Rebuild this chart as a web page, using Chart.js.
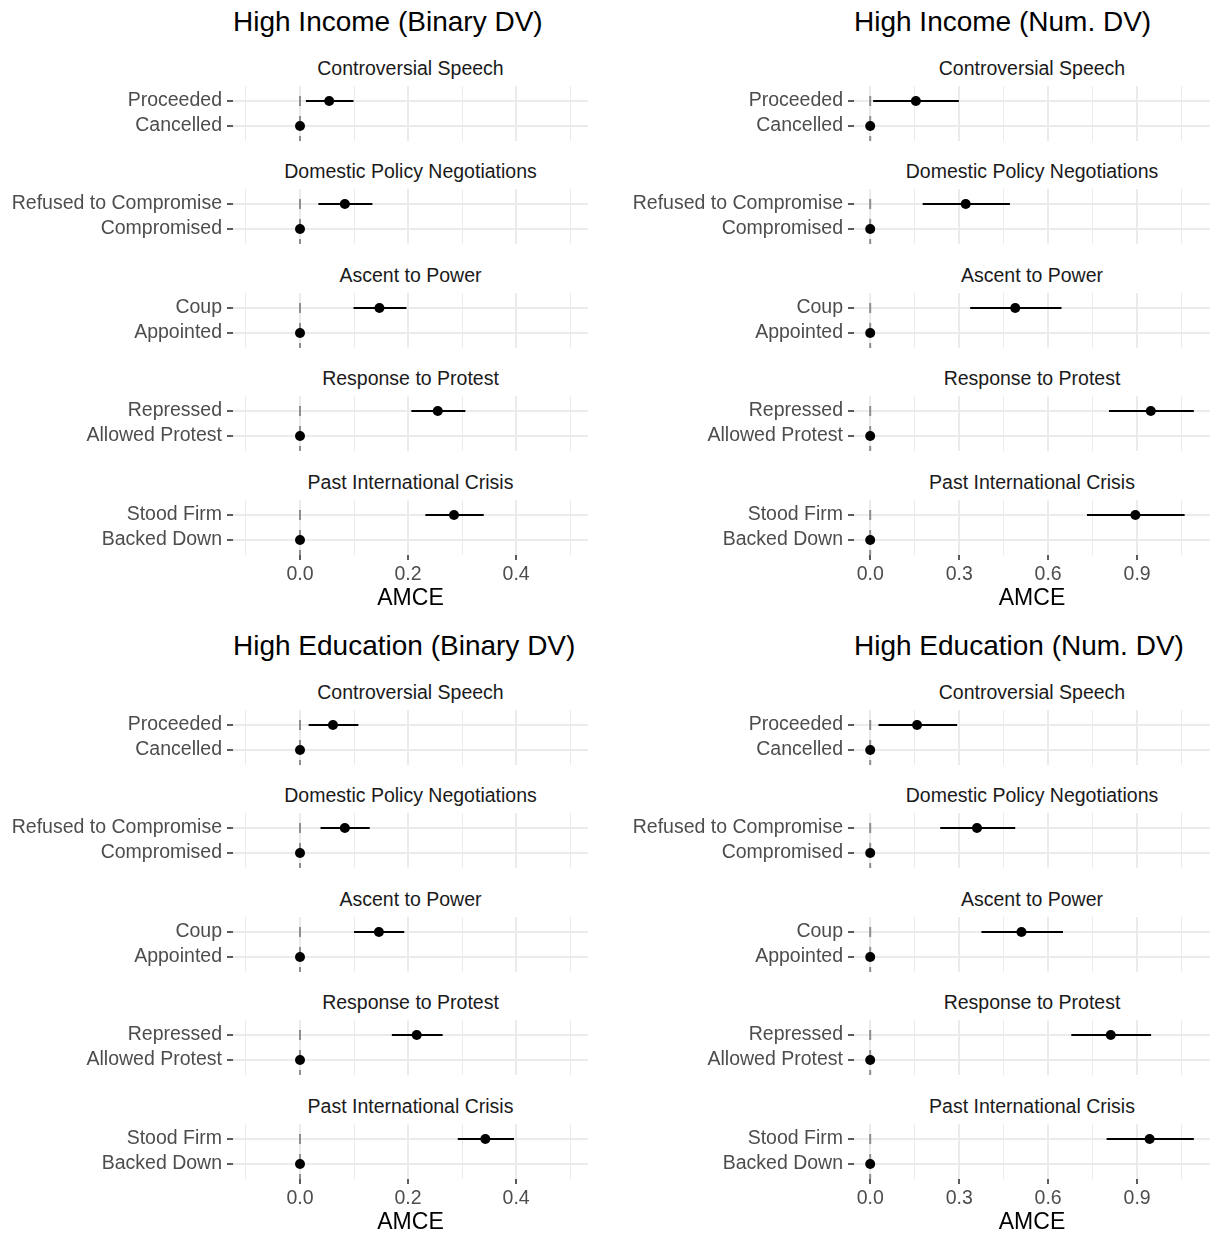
<!DOCTYPE html>
<html>
<head>
<meta charset="utf-8">
<title>AMCE by respondent subgroup</title>
<script src="https://cdn.jsdelivr.net/npm/chart.js@4.4.1/dist/chart.umd.min.js"></script>
<style>
  html, body { margin: 0; padding: 0; background: #ffffff; }
  #page { position: relative; width: 1211px; height: 1234px; overflow: hidden;
          font-family: "Liberation Sans", Arial, Helvetica, sans-serif; }
  .facet { position: absolute; }
  .facet canvas { display: block; }
  .plot-title { position: absolute; font-size: 28px; color: #000; white-space: nowrap;
                height: 32px; line-height: 32px; }
  .strip { position: absolute; font-size: 19.5px; color: #1a1a1a; text-align: center;
           white-space: nowrap; height: 24px; line-height: 24px; }
</style>
</head>
<body>
<div id="page"></div>
<script>
// Conjoint attributes (one facet each), the treated level and the baseline level
const facetNames = ['Controversial Speech', 'Domestic Policy Negotiations', 'Ascent to Power',
                    'Response to Protest', 'Past International Crisis'];
const treatedLevels = ['Proceeded', 'Refused to Compromise', 'Coup', 'Repressed', 'Stood Firm'];
const baselineLevels = ['Cancelled', 'Compromised', 'Appointed', 'Allowed Protest', 'Backed Down'];

// AMCE estimates with lower / upper interval bounds, treated level vs. baseline
const incomeBinaryEst = [0.054, 0.083, 0.147, 0.255, 0.285];
const incomeBinaryLo  = [0.011, 0.034, 0.099, 0.206, 0.232];
const incomeBinaryHi  = [0.099, 0.134, 0.197, 0.306, 0.340];

const incomeNumEst = [0.154, 0.322, 0.489, 0.946, 0.894];
const incomeNumLo  = [0.010, 0.177, 0.337, 0.805, 0.731];
const incomeNumHi  = [0.299, 0.471, 0.645, 1.091, 1.060];

const eduBinaryEst = [0.061, 0.083, 0.146, 0.216, 0.343];
const eduBinaryLo  = [0.016, 0.038, 0.100, 0.170, 0.292];
const eduBinaryHi  = [0.108, 0.129, 0.193, 0.264, 0.396];

const eduNumEst = [0.158, 0.360, 0.510, 0.811, 0.942];
const eduNumLo  = [0.028, 0.236, 0.375, 0.678, 0.797];
const eduNumHi  = [0.293, 0.489, 0.650, 0.947, 1.091];

// the baseline level is the reference category, so its effect is zero
const baselineEst = 0;

// x-axis breaks
const binaryTicks = [0, 0.2, 0.4];
const binaryMinorTicks = [-0.1, 0.1, 0.3, 0.5];
const numericTicks = [0, 0.3, 0.6, 0.9];
const numericMinorTicks = [0.15, 0.45, 0.75, 1.05];

const plots = [
  { title: 'High Income (Binary DV)', est: incomeBinaryEst, lo: incomeBinaryLo, hi: incomeBinaryHi,
    ticks: binaryTicks, minor: binaryMinorTicks, xMin: -0.124, xMax: 0.533, col: 0, row: 0 },
  { title: 'High Income (Num. DV)', est: incomeNumEst, lo: incomeNumLo, hi: incomeNumHi,
    ticks: numericTicks, minor: numericMinorTicks, xMin: -0.0546, xMax: 1.1456, col: 1, row: 0 },
  { title: 'High Education (Binary DV)', est: eduBinaryEst, lo: eduBinaryLo, hi: eduBinaryHi,
    ticks: binaryTicks, minor: binaryMinorTicks, xMin: -0.124, xMax: 0.533, col: 0, row: 1 },
  { title: 'High Education (Num. DV)', est: eduNumEst, lo: eduNumLo, hi: eduNumHi,
    ticks: numericTicks, minor: numericMinorTicks, xMin: -0.0546, xMax: 1.1456, col: 1, row: 1 }
];

// page geometry
const layout = {
  cols: [
    { left: 0,   width: 600, panelLeft: 233, panelRight: 588 },
    { left: 605, width: 606, panelLeft: 854, panelRight: 1210 }
  ],
  rowTop: [0, 624],
  firstPanelTop: 86,
  facetStep: 103.4,
  panelHeight: 55,
  axisHeight: 61,
  stripGap: 18.5,
  titleCenter: 22
};

// discrete rows: baseline at 1, treated level at 2, with ggplot-like padding
const Y_MIN = 0.4, Y_MAX = 2.6;
const FONT = '"Liberation Sans", Arial, Helvetica, sans-serif';
const page = document.getElementById('page');

function addText(cls, text, left, top, width) {
  const d = document.createElement('div');
  d.className = cls;
  d.textContent = text;
  d.style.left = left + 'px';
  d.style.top = top + 'px';
  if (width) d.style.width = width + 'px';
  page.appendChild(d);
}

function makeFacet(plot, k) {
  const col = layout.cols[plot.col];
  const isLast = k === facetNames.length - 1;
  const top = Math.round(layout.rowTop[plot.row] + layout.firstPanelTop + k * layout.facetStep);
  const h = layout.panelHeight + (isLast ? layout.axisHeight : 0);

  // strip label above the panel
  addText('strip', facetNames[k], col.panelLeft, top - layout.stripGap - 12,
          col.panelRight - col.panelLeft);

  const div = document.createElement('div');
  div.className = 'facet';
  div.style.left = col.left + 'px';
  div.style.top = top + 'px';
  div.style.width = col.width + 'px';
  div.style.height = h + 'px';
  const canvas = document.createElement('canvas');
  canvas.width = col.width;
  canvas.height = h;
  canvas.style.width = col.width + 'px';
  canvas.style.height = h + 'px';
  div.appendChild(canvas);
  page.appendChild(div);

  const rowLabels = { 1: baselineLevels[k], 2: treatedLevels[k] };
  const xTickList = plot.ticks.map(v => ({ value: v, major: true }))
    .concat(plot.minor.map(v => ({ value: v, major: false })))
    .sort((a, b) => a.value - b.value);
  const isMajor = c => !!(c.tick && c.tick.major);

  new Chart(canvas, {
    type: 'scatter',
    data: {
      datasets: [
        { // point estimates
          type: 'scatter',
          data: [{ x: plot.est[k], y: 2 }, { x: baselineEst, y: 1 }],
          pointRadius: 5, pointBackgroundColor: '#000', pointBorderWidth: 0,
          order: 0
        },
        { // interval for the treated level
          type: 'line',
          data: [{ x: plot.lo[k], y: 2 }, { x: plot.hi[k], y: 2 }],
          borderColor: '#000', borderWidth: 2.2, pointRadius: 0, fill: false,
          order: 1
        },
        { // dashed reference line at zero
          type: 'line',
          data: [{ x: baselineEst, y: Y_MIN }, { x: baselineEst, y: Y_MAX }],
          borderColor: '#8f8f8f', borderWidth: 2, borderDash: [10, 10], borderDashOffset: 5,
          pointRadius: 0, fill: false,
          order: 2
        }
      ]
    },
    options: {
      responsive: false,
      animation: false,
      events: [],
      layout: {
        autoPadding: false,
        padding: { left: 0, top: 0, bottom: 0, right: col.width - (col.panelRight - col.left) }
      },
      plugins: { legend: { display: false }, tooltip: { enabled: false }, title: { display: false } },
      scales: {
        x: {
          type: 'linear',
          min: plot.xMin, max: plot.xMax,
          afterBuildTicks: s => { s.ticks = xTickList.map(t => ({ value: t.value, major: t.major })); },
          ticks: {
            display: isLast, autoSkip: false, maxRotation: 0, padding: 3,
            color: '#4d4d4d', font: { family: FONT, size: 19.5 },
            callback: (v, i, t) => (t[i] && t[i].major) ? Number(v).toFixed(1) : ''
          },
          grid: {
            color: '#ebebeb',
            lineWidth: c => isMajor(c) ? 2 : 1,
            drawTicks: isLast, tickLength: 5, tickWidth: 1.6,
            tickColor: c => isMajor(c) ? '#333333' : 'rgba(0,0,0,0)'
          },
          border: { display: false },
          title: { display: isLast, text: 'AMCE', color: '#000',
                   font: { family: FONT, size: 23 }, padding: { top: 0, bottom: 4 } },
          afterFit: s => { s.height = isLast ? layout.axisHeight : 0; s.paddingLeft = 0; s.paddingRight = 0; }
        },
        y: {
          type: 'linear',
          min: Y_MIN, max: Y_MAX,
          afterBuildTicks: s => { s.ticks = [{ value: 1 }, { value: 2 }]; },
          ticks: {
            autoSkip: false, padding: 5, color: '#4d4d4d', font: { family: FONT, size: 19.5 },
            callback: v => rowLabels[v]
          },
          grid: { color: '#ebebeb', lineWidth: 2, drawTicks: true, tickLength: 6,
                  tickWidth: 1.6, tickColor: '#333333' },
          border: { display: false },
          afterFit: s => { s.width = col.panelLeft - col.left; s.paddingTop = 0; s.paddingBottom = 0; }
        }
      }
    }
  });
}

plots.forEach(plot => {
  const col = layout.cols[plot.col];
  addText('plot-title', plot.title, col.panelLeft, layout.rowTop[plot.row] + layout.titleCenter - 16);
  facetNames.forEach((_, k) => makeFacet(plot, k));
});
</script>
</body>
</html>
